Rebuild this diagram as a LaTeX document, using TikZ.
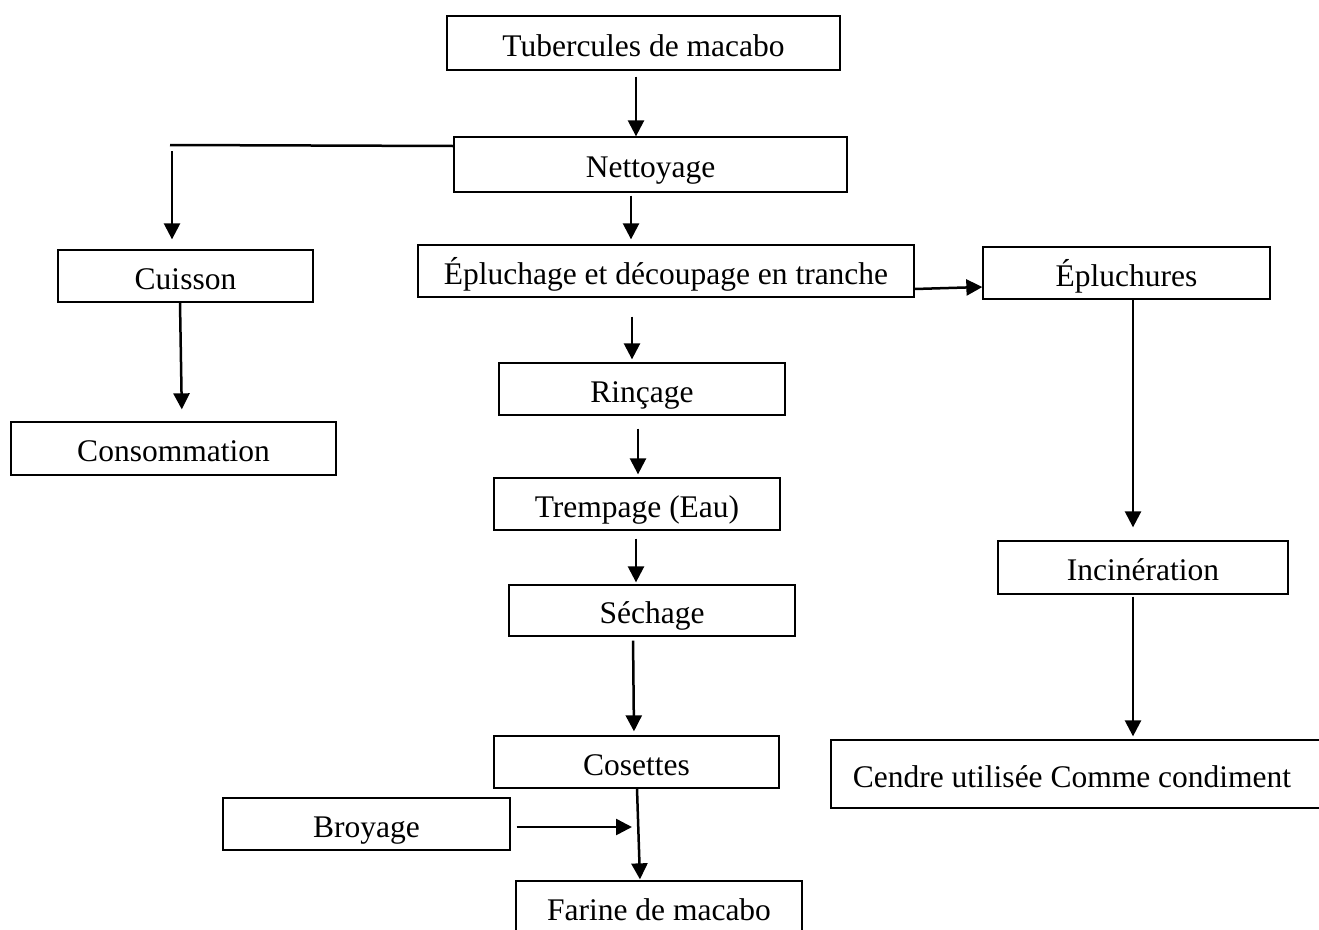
\documentclass[tikz,border=0pt]{standalone}
\usepackage{fontspec}
\setmainfont{Liberation Serif}
\usetikzlibrary{arrows.meta,calc}
\begin{document}
\begin{tikzpicture}[x=1pt,y=-1pt,
  box/.style={draw, line width=1.3pt, inner sep=0pt, text height=30pt, text depth=4pt,
    font=\fontsize{31.5}{36}\selectfont},
  arr/.style={line width=2.5pt, -{Triangle[length=16pt,width=16pt]}},
  ln/.style={line width=2.5pt}]
\useasboundingbox (0,0) rectangle (1319,929);
\clip (0,0) rectangle (1319,929);
\fill[white] (0,0) rectangle (1319,929);
% nodes
\node[box, minimum width=393, minimum height=54] (tub) at (643.5,43) {Tubercules de macabo};
\node[box, minimum width=393, minimum height=55] (net) at (650.5,164.5) {Nettoyage};
\node[box, minimum width=255, minimum height=52] (cui) at (185.5,276) {Cuisson};
\node[box, minimum width=496, minimum height=52] (epl) at (666,271) {Épluchage et découpage en tranche};
\node[box, minimum width=287, minimum height=52] (epu) at (1126.5,273) {Épluchures};
\node[box, minimum width=286, minimum height=52] (rin) at (642,389) {Rinçage};
\node[box, minimum width=325, minimum height=53] (con) at (173.5,448.5) {Consommation};
\node[box, minimum width=286, minimum height=52] (tre) at (637,504) {Trempage (Eau)};
\node[box, minimum width=286, minimum height=51] (sec) at (652,610.5) {Séchage};
\node[box, minimum width=290, minimum height=53] (inc) at (1143,567.5) {Incinération};
\node[box, minimum width=285, minimum height=52] (cos) at (636.5,762) {Cosettes};
\node[box, minimum width=496, minimum height=68] (cen) at (1079,774) {\hspace*{-14pt}Cendre utilisée Comme condiment};
\node[box, minimum width=287, minimum height=52] (bro) at (366.5,824) {Broyage};
\node[box, minimum width=286, minimum height=52] (far) at (659,907) {Farine de macabo};
\coordinate (nc) at (170,145);
\coordinate (bj) at (632,827);
% connectors
\draw[arr, shorten <=6pt] (tub.south -| 636,0) -- (net.north -| 636,0);
\draw[ln] (net.west |- 0,146) -- (nc);
\draw[arr, shorten <=6pt, shorten >=10pt] (nc -| 172,0) -- (cui.north -| 172,0);
\draw[arr, shorten <=3pt, shorten >=5pt] (net.south -| 631,0) -- (epl.north -| 631,0);
\draw[arr, shorten >=12pt] (cui.south -| 180,0) -- (con.north -| 182,0);
\draw[arr] (epl.east |- 0,289) -- (epu.west |- 0,287);
\draw[arr, shorten <=19pt, shorten >=3pt] (epl.south -| 632,0) -- (rin.north -| 632,0);
\draw[arr, shorten >=13pt] (epu.south -| 1133,0) -- (inc.north -| 1133,0);
\draw[arr, shorten <=13pt, shorten >=3pt] (rin.south -| 638,0) -- (tre.north -| 638,0);
\draw[arr, shorten <=8pt, shorten >=2pt] (tre.south -| 636,0) -- (sec.north -| 636,0);
\draw[arr, shorten <=4pt, shorten >=4pt] (sec.south -| 633,0) -- (cos.north -| 634,0);
\draw[arr, shorten <=2pt, shorten >=3pt] (inc.south -| 1133,0) -- (cen.north -| 1133,0);
\draw[arr, shorten >=1pt] (cos.south -| 637,0) -- (far.north -| 640,0);
\draw[arr, shorten <=6pt] (bro.east |- bj) -- (bj);
\end{tikzpicture}
\end{document}
